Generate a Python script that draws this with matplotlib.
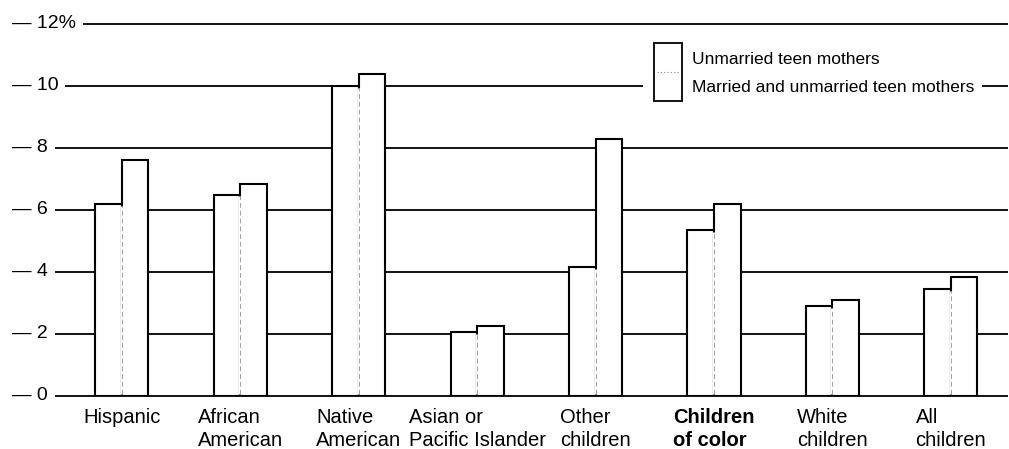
import numpy as np
import matplotlib
matplotlib.use("Agg")
import matplotlib.pyplot as plt
from matplotlib.patches import Rectangle

plt.rcParams["font.family"] = ["Liberation Sans", "DejaVu Sans"]

categories = ["Hispanic", "African\nAmerican", "Native\nAmerican", "Asian or\nPacific Islander",
              "Other\nchildren", "Children\nof color", "White\nchildren", "All\nchildren"]
unmarried = [6.2, 6.5, 10.0, 2.05, 4.15, 5.35, 2.9, 3.45]
all_teen = [7.6, 6.85, 10.4, 2.25, 8.3, 6.2, 3.1, 3.85]
bold_cat = "Children\nof color"
yticks = [0, 2, 4, 6, 8, 10, 12]
ytick_labels = ["0", "2", "4", "6", "8", "10", "12%"]
legend_labels = ["Unmarried teen mothers", "Married and unmarried teen mothers"]

W, H = 1009, 449
fig = plt.figure(figsize=(W / 100, H / 100), dpi=100)
# axes: x pixel 0..1009, y value 0 at px 396, 12 at px 24
ax = fig.add_axes([0, (H - 396) / H, 1, (396 - 24) / H])
x0, step = 122, 118.4
ax.set_xlim(-x0 / step, (W - x0) / step)
ax.set_ylim(0, 12)
ax.axis("off")

def px(p):
    return (p - x0) / step

def py(p):
    return (396 - p) / 31.0

# gridlines
ax.hlines(yticks, px(10), px(1008), color="black", lw=1.3, zorder=1, clip_on=False)
for t, lab in zip(yticks, ytick_labels):
    ax.text(px(12), t, "\u2014 " + lab, ha="left", va="center", fontsize=14, zorder=2,
            clip_on=False, bbox=dict(boxstyle="square,pad=0.35", fc="white", ec="none"))

x = np.arange(len(categories))
w = 26.5 / step
ax.bar(x - w / 2, unmarried, w, color="white", edgecolor="black", lw=1.5, zorder=3)
ax.bar(x + w / 2, all_teen, w, color="white", edgecolor="black", lw=1.5, zorder=3)
low = np.minimum(unmarried, all_teen)
ax.vlines(x, 0.06, low - 0.06, color="white", lw=2.4, zorder=4)
ax.vlines(x, 0.06, low - 0.06, color="#a0a0a0", lw=0.7, ls=(0, (5, 3)), zorder=5)

for xi, c in zip(x, categories):
    ax.text(xi, py(408), c, ha="center", va="top", multialignment="left", fontsize=14.5,
            linespacing=1.25, fontweight="bold" if c == bold_cat else "normal", clip_on=False)

# legend
ax.add_patch(Rectangle((px(643), py(104)), px(982) - px(643), py(40) - py(104),
                       fc="white", ec="none", zorder=2))
ax.add_patch(Rectangle((px(654), py(101)), px(682) - px(654), py(43) - py(101),
                       fc="white", ec="black", lw=1.3, zorder=3))
ax.plot([px(657), px(680)], [py(72), py(72)], color="#888888", lw=0.8, ls=(0, (1, 2)), zorder=4)
ax.text(px(692), py(59), legend_labels[0], ha="left", va="center", fontsize=12.5, zorder=4)
ax.text(px(692), py(88), legend_labels[1], ha="left", va="center", fontsize=12.5, zorder=4)

fig.savefig("out.png", dpi=100)
